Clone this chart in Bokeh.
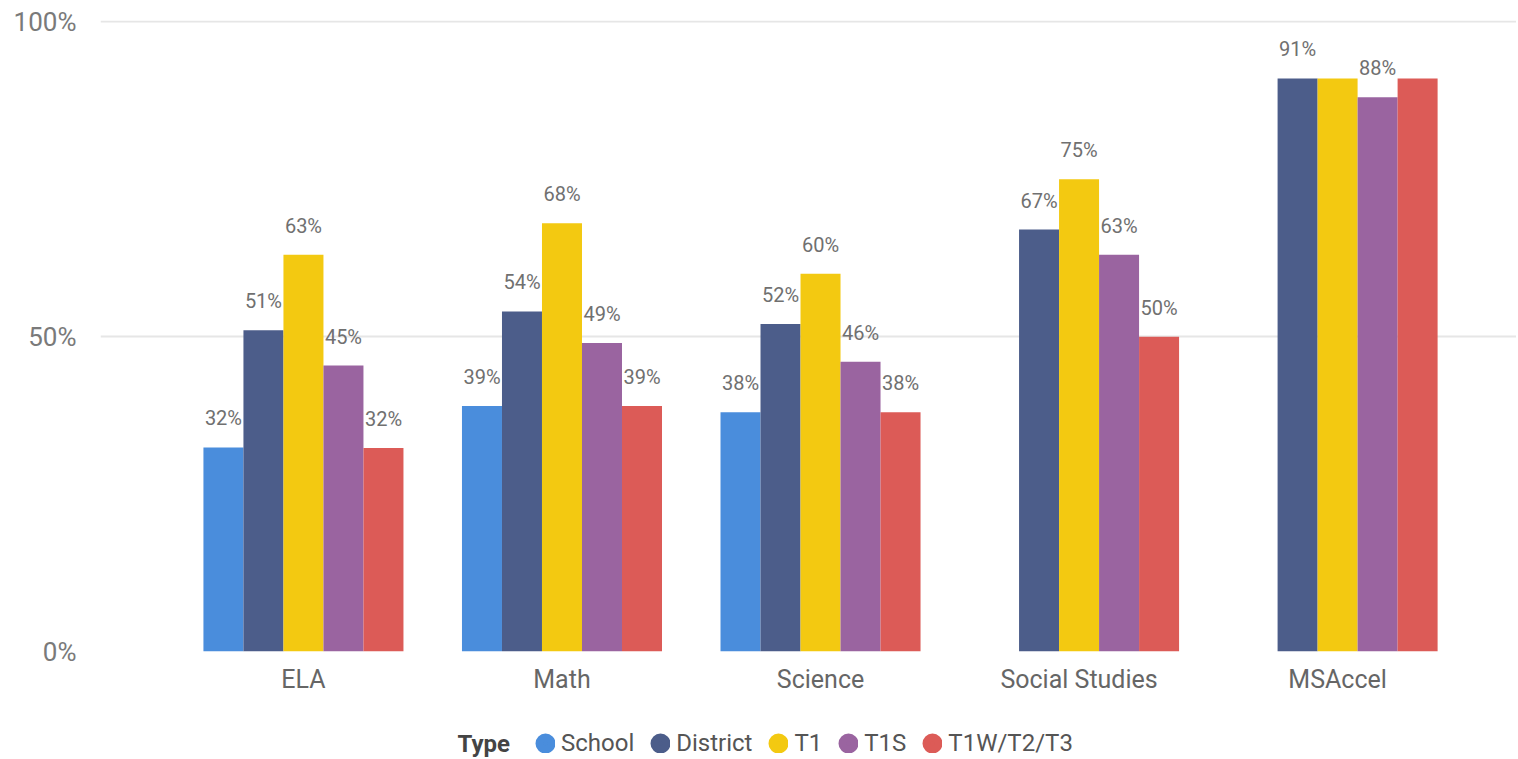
import math
from bokeh.plotting import figure
from bokeh.layouts import column
from bokeh.models import (Range1d, FixedTicker, PrintfTickFormatter, Legend, LegendItem,
                          ColumnDataSource, Label)
from bokeh.transform import dodge
from bokeh.embed import file_html
from bokeh.resources import INLINE

# ---- data ----
categories = ["ELA", "Math", "Science", "Social Studies", "MSAccel"]
series_names = ["School", "District", "T1", "T1S", "T1W/T2/T3"]
school = [32.4, 39, 38, None, None]
district = [51, 54, 52, 67, 91]
t1 = [63, 68, 60, 75, 91]
t1s = [45.4, 49, 46, 63, 88]
t1w = [32.3, 39, 38, 50, 91]
colors = ["#4A8DDC", "#4C5D8A", "#F3C911", "#9A64A0", "#DC5B57"]
# labels hidden by the original chart due to overlap
hidden_labels = {("MSAccel", "T1"), ("MSAccel", "T1W/T2/T3")}
y_ticks = [0, 50, 100]
legend_title = "Type"

all_series = [school, district, t1, t1s, t1w]

FONT = "Roboto"
bar_w = 40 / 258.5
W = 1516

p = figure(width=W, height=703, output_backend="svg", toolbar_location=None,
           x_range=Range1d(-0.785, 4.692), y_range=Range1d(0, 100.2),
           min_border_left=100, min_border_right=0, min_border_top=20,
           min_border_bottom=52)
p.outline_line_color = None
p.background_fill_color = "white"

for i, (name, vals) in enumerate(zip(series_names, all_series)):
    xs, vs, labs = [], [], []
    for j, v in enumerate(vals):
        if v is None:
            continue
        xs.append(j)
        vs.append(v)
        labs.append("" if (categories[j], name) in hidden_labels else f"{int(v + 0.5)}%")
    src = ColumnDataSource(dict(x=xs, v=vs, label=labs))
    off = (i - 2) * bar_w
    p.vbar(x=dodge("x", off), top="v", bottom=0, width=bar_w, source=src,
           fill_color=colors[i], line_color=None)
    p.text(x=dodge("x", off), y="v", text="label", source=src,
           text_align="center", text_baseline="alphabetic", y_offset=-29,
           text_font_size="20px", text_color="#707070", text_font={"value": FONT})

# axes
p.xgrid.visible = False
p.ygrid.ticker = FixedTicker(ticks=y_ticks)
p.ygrid.grid_line_color = "#e6e6e6"
p.ygrid.grid_line_width = 1.8

p.yaxis.ticker = FixedTicker(ticks=y_ticks)
p.yaxis.formatter = PrintfTickFormatter(format="%d%%")
p.yaxis.axis_line_color = None
p.yaxis.major_tick_line_color = None
p.yaxis.minor_tick_line_color = None
p.yaxis.major_tick_out = 0
p.yaxis.major_label_standoff = 24
p.yaxis.major_label_text_font = FONT
p.yaxis.major_label_text_font_size = "26px"
p.yaxis.major_label_text_color = "#7a7a7a"

p.xaxis.ticker = FixedTicker(ticks=list(range(len(categories))))
p.xaxis.major_label_overrides = {i: c for i, c in enumerate(categories)}
p.xaxis.axis_line_color = None
p.xaxis.major_tick_line_color = None
p.xaxis.minor_tick_line_color = None
p.xaxis.major_tick_out = 0
p.xaxis.major_label_standoff = 13
p.xaxis.major_label_text_font = FONT
p.xaxis.major_label_text_font_size = "25px"
p.xaxis.major_label_text_color = "#666666"

# ---- legend strip (separate small figure under the chart) ----
lg = figure(width=W, height=54, output_backend="svg", toolbar_location=None,
            x_range=Range1d(0, 1), y_range=Range1d(0, 1),
            x_axis_type=None, y_axis_type=None,
            min_border_left=0, min_border_right=0, min_border_top=0, min_border_bottom=0)
lg.outline_line_color = None
lg.grid.visible = False

items = []
for name, c in zip(series_names, colors):
    r = lg.scatter(x=[math.nan], y=[math.nan], marker="circle", size=8,
                   fill_color=c, line_color=c, line_width=12)
    items.append(LegendItem(label=name, renderers=[r]))

legend = Legend(items=items, orientation="horizontal", location=(435, 0),
                label_text_font=FONT, label_text_font_size="24px",
                label_text_color="#555555", glyph_width=20, glyph_height=20,
                label_standoff=6, spacing=16, padding=0, margin=0,
                border_line_color=None, background_fill_alpha=0)
lg.add_layout(legend)
lg.add_layout(Label(x=357, y=14, x_units="screen", y_units="screen", text=legend_title,
                    text_font=FONT, text_font_size="24px", text_font_style="bold",
                    text_color="#444444", text_baseline="middle"))

open("out.html", "w").write(file_html(column(p, lg, spacing=0), INLINE))
